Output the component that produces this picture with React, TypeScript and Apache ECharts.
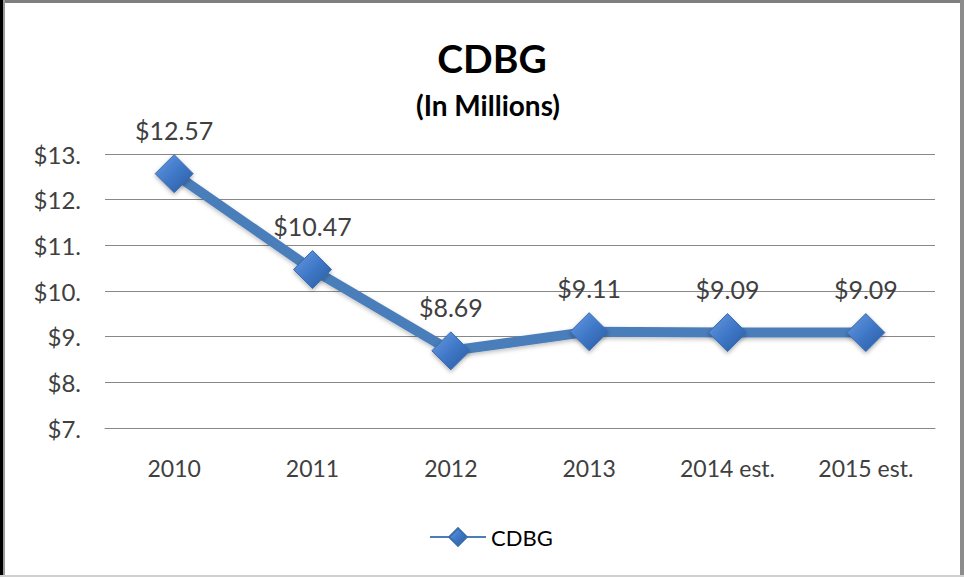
import React, { useEffect, useRef } from "react";
import * as echarts from "echarts";

const categories = ["2010", "2011", "2012", "2013", "2014 est.", "2015 est."];
const values = [12.57, 10.47, 8.69, 9.11, 9.09, 9.09];
const seriesName = "CDBG";
const titleText = "CDBG";
const subtitleText = "(In Millions)";

export default function App() {
  const ref = useRef<HTMLDivElement>(null);
  useEffect(() => {
    const chart = echarts.init(ref.current!, null, { renderer: "svg" });
    const font = "Lato, 'Open Sans', sans-serif";
    const diamondFill = new echarts.graphic.LinearGradient(0, 0, 1, 1, [
      { offset: 0, color: "#6b9be0" },
      { offset: 0.5, color: "#3f78c8" },
      { offset: 1, color: "#2a5a9e" },
    ]);
    chart.setOption({
      animation: false,
      backgroundColor: "#ffffff",
      textStyle: { fontFamily: font },
      title: [
        {
          text: titleText,
          left: 487,
          top: 33,
          textAlign: "center",
          textStyle: { fontSize: 39, fontWeight: "bold", color: "#000", fontFamily: font },
        },
        {
          text: subtitleText,
          left: 483,
          top: 86,
          textAlign: "center",
          textStyle: { fontSize: 28, fontWeight: "bold", color: "#000", fontFamily: font },
        },
      ],
      grid: { left: 105, right: 29, top: 154, bottom: 149, containLabel: false },
      xAxis: {
        type: "category",
        data: categories,
        boundaryGap: true,
        axisLine: { lineStyle: { color: "#888888", width: 1 } },
        axisTick: { show: false },
        axisLabel: { fontSize: 23, color: "#404040", margin: 28, fontFamily: font },
      },
      yAxis: {
        type: "value",
        min: 7,
        max: 13,
        interval: 1,
        axisLine: { show: false },
        axisTick: { show: false },
        splitLine: { lineStyle: { color: "#888888", width: 1 } },
        axisLabel: {
          fontSize: 24,
          color: "#404040",
          margin: 24,
          fontFamily: font,
          formatter: (v: number) => `$${v}.`,
        },
      },
      legend: {
        data: [seriesName],
        bottom: 24,
        left: 424,
        itemWidth: 56,
        itemHeight: 22,
        itemGap: 10,
        textStyle: { fontSize: 22, color: "#000", fontFamily: font },
      },
      series: [
        {
          name: seriesName,
          type: "line",
          data: values,
          symbol: "diamond",
          symbolSize: 38,
          lineStyle: {
            color: "#4a7ebb",
            width: 10,
            shadowColor: "rgba(0,0,0,0.25)",
            shadowBlur: 4,
            shadowOffsetY: 2,
          },
          itemStyle: {
            color: diamondFill,
            borderColor: "#3a6cb0",
            borderWidth: 1,
            shadowColor: "rgba(0,0,0,0.3)",
            shadowBlur: 4,
            shadowOffsetY: 2,
          },
          label: {
            show: true,
            position: "top",
            distance: 12,
            fontSize: 25,
            color: "#404040",
            fontFamily: font,
            formatter: (p: any) => `$${Number(p.value).toFixed(2)}`,
          },
        },
      ],
      graphic: [
        { type: "rect", shape: { x: 0, y: 0, width: 964, height: 3 }, style: { fill: "#7f7f7f" } },
        { type: "rect", shape: { x: 0, y: 0, width: 3, height: 577 }, style: { fill: "#000000" } },
        { type: "rect", shape: { x: 3, y: 0, width: 2, height: 577 }, style: { fill: "#9a9a9a" } },
        { type: "rect", shape: { x: 960, y: 0, width: 4, height: 577 }, style: { fill: "#8c8c8c" } },
        { type: "rect", shape: { x: 0, y: 575, width: 964, height: 2 }, style: { fill: "#d0d0d0" } },
      ],
    });
    return () => chart.dispose();
  }, []);
  return (
    <div
      ref={ref}
      style={{ position: "fixed", left: 0, top: 0, width: 964, height: 577 }}
    />
  );
}
